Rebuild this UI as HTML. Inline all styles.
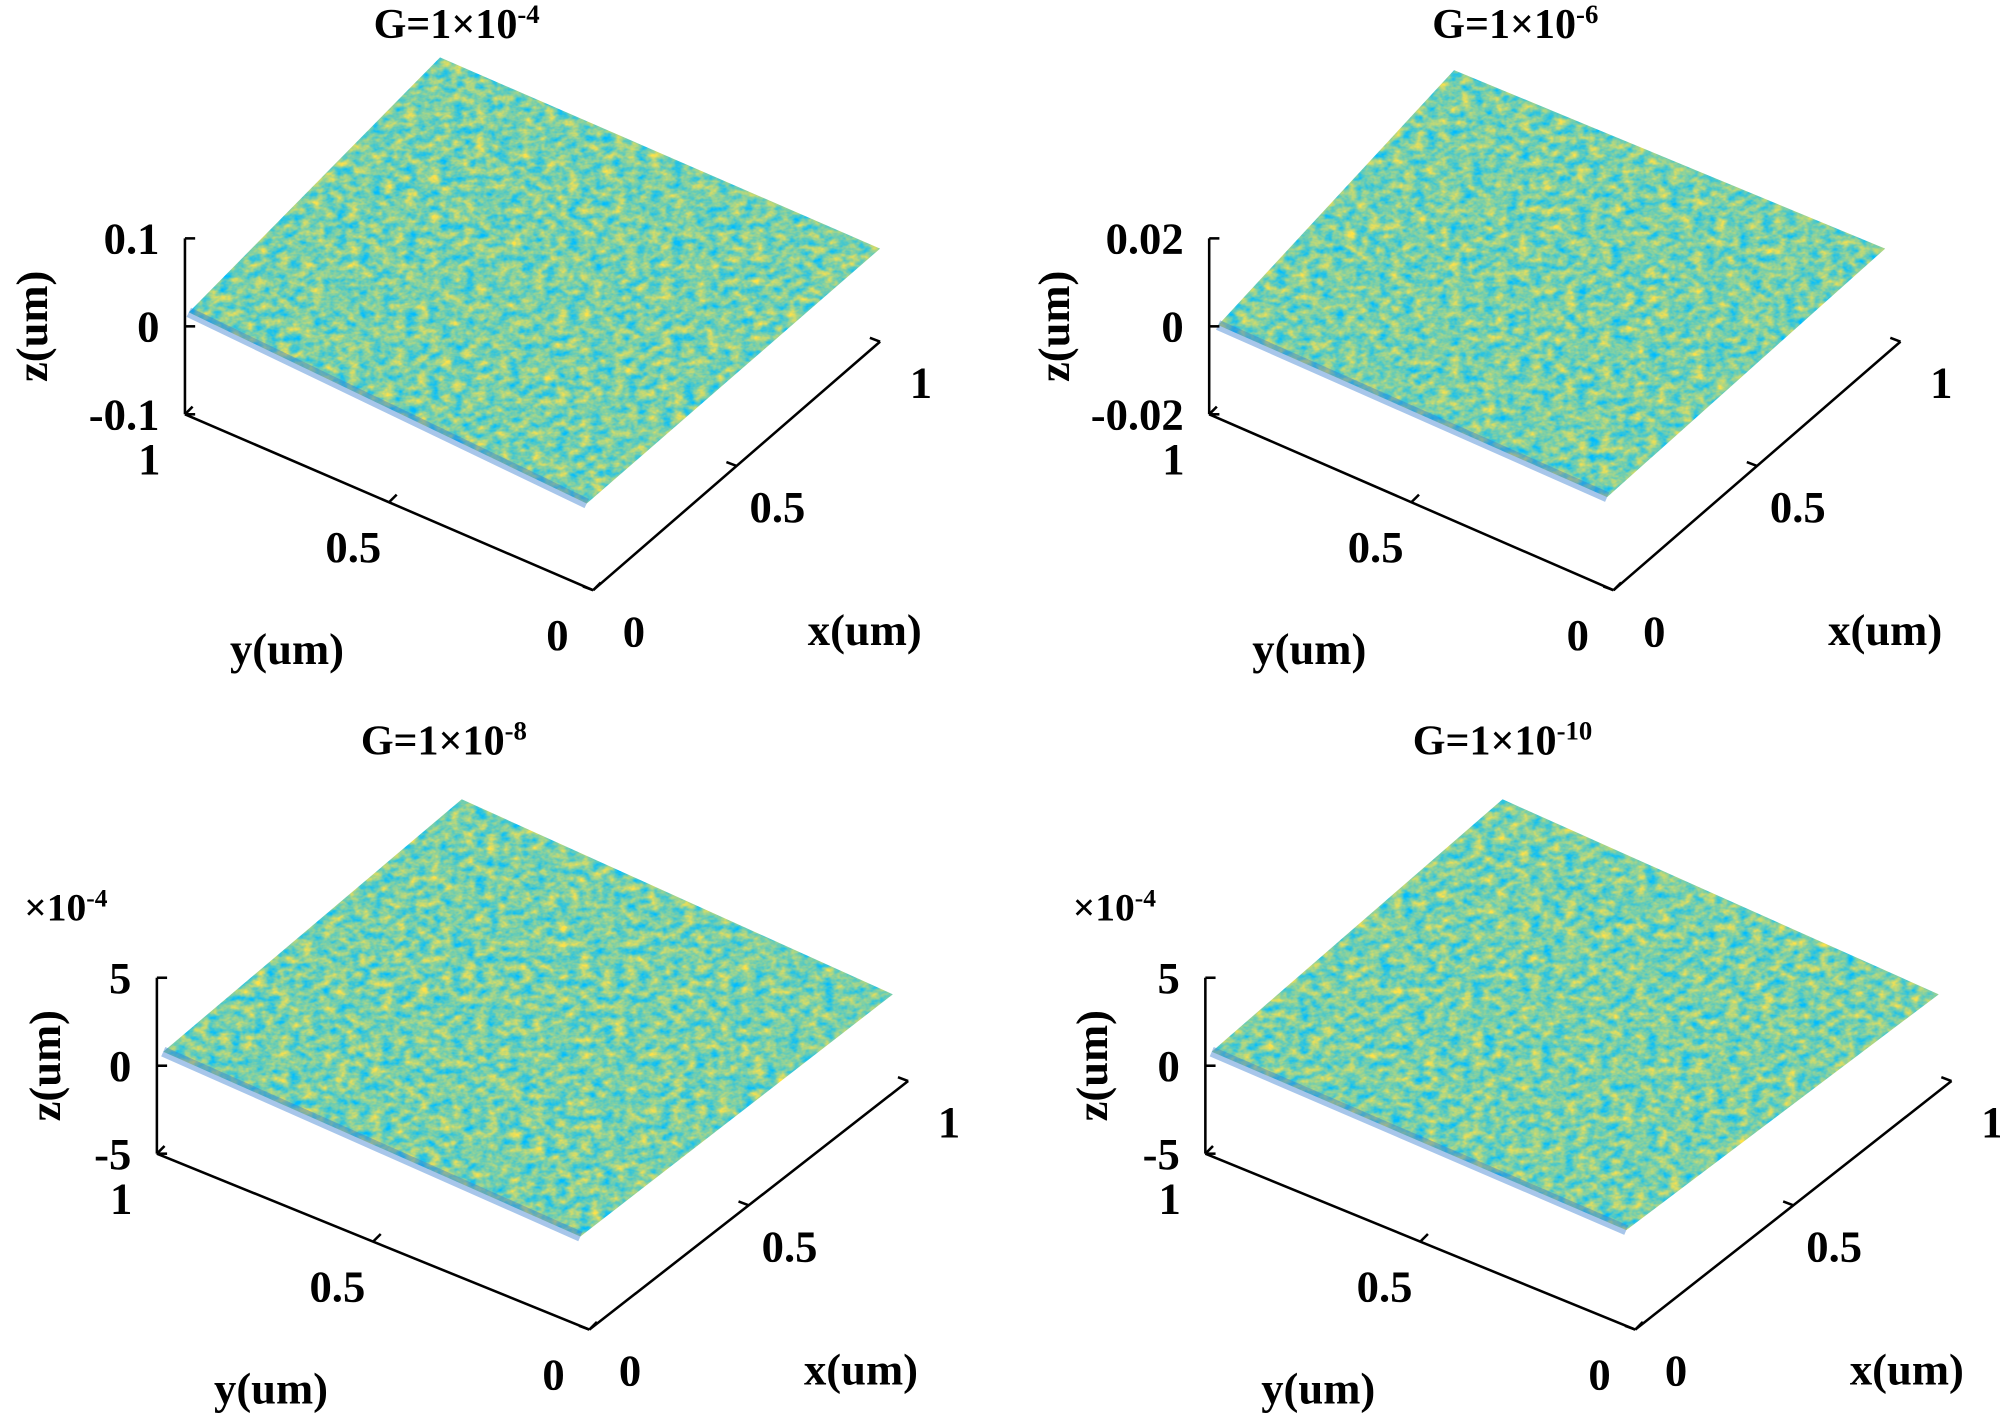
<!DOCTYPE html>
<html><head><meta charset="utf-8"><style>
html,body{margin:0;padding:0;background:#fff;}
svg{display:block;}
text{font-family:"Liberation Serif",serif;fill:#000;font-weight:bold;}
</style></head><body>
<svg id="fig" width="2000" height="1415" viewBox="0 0 1568 1110" preserveAspectRatio="none" xmlns="http://www.w3.org/2000/svg">
<defs>
<filter id="rough" x="0" y="0" width="100%" height="100%" color-interpolation-filters="sRGB">
<feTurbulence type="fractalNoise" baseFrequency="0.11 0.16" numOctaves="3" seed="4" result="n"/>
<feColorMatrix in="n" type="matrix" values="1.4 0 0 0 -0.22  0.2 0 0 0 0.71  -1.0 0 0 0 1.16  0 0 0 0 1"/>
</filter>
</defs>
</svg>
<script>
const titles = ["G=1×10", "G=1×10", "G=1×10", "G=1×10"];
const exps = ["-4", "-6", "-8", "-10"];
const zTicks = [["0.1","0","-0.1"],["0.02","0","-0.02"],["5","0","-5"],["5","0","-5"]];
const hTicks = ["0","0.5","1"];
const svg = document.getElementById('fig');
const NS = "http://www.w3.org/2000/svg";
const P = [
 {zx:145,zt:187,zb:325,yc:[465,463],xc:[690,268],surf:[[148,245],[345,45],[690,195],[460,395]],tx:370,ty:30,sci:false,zl:25},
 {zx:948,zt:187,zb:325,yc:[1265,463],xc:[1490,268],surf:[[955,255],[1140,55],[1478,195],[1260,390]],tx:1200,ty:30,sci:false,zl:826},
 {zx:123,zt:767,zb:905,yc:[462,1043],xc:[712,848],surf:[[128,825],[362,627],[700,780],[455,970]],tx:360,ty:592,sci:true,zl:35},
 {zx:945,zt:767,zb:905,yc:[1282,1043],xc:[1530,848],surf:[[950,825],[1178,627],[1520,780],[1275,965]],tx:1190,ty:592,sci:true,zl:856}
];
function el(tag, attrs, parent){const e=document.createElementNS(NS,tag);for(const k in attrs)e.setAttribute(k,attrs[k]);(parent||svg).appendChild(e);return e;}
function txt(s,x,y,size,parent,anchor){const t=el('text',{x:x,y:y,'font-size':size,'text-anchor':anchor||'middle'},parent);t.textContent=s;return t;}
P.forEach((p,i)=>{
 const g=el('g',{});
 
 
 const t=txt(titles[i],p.tx-12,p.ty,33,g);
 
 
 const ts=el('tspan',{'font-size':21,dy:-12},t);ts.textContent=exps[i];
 const pts=p.surf.map(q=>q.join(',')).join(' ');
 const cp=el('clipPath',{id:'cp'+i},svg.querySelector('defs'));
 el('polygon',{points:pts},cp);
 const sg=el('g',{'clip-path':'url(#cp'+i+')'},g);
 
 
 el('rect',{x:p.surf[0][0],y:p.surf[1][1],width:p.surf[2][0]-p.surf[0][0],height:p.surf[3][1]-p.surf[1][1],filter:'url(#rough)'},sg);
 const fr=el('polyline',{points:[p.surf[0],p.surf[3]].map(q=>q.join(',')).join(' '),stroke:'#3b80d0','stroke-width':8,'stroke-opacity':0.45,fill:'none'},g);
 
 
 const corner=[p.zx,p.zb];
 const ax=el('g',{stroke:'#000','stroke-width':2,fill:'none'},g);
 
 
 el('line',{x1:p.zx,y1:p.zt,x2:p.zx,y2:p.zb},ax);
 el('line',{x1:corner[0],y1:corner[1],x2:p.yc[0],y2:p.yc[1]},ax);
 el('line',{x1:p.yc[0],y1:p.yc[1],x2:p.xc[0],y2:p.xc[1]},ax);
 zTicks[i].forEach((s,k)=>{
  const y=p.zt+(p.zb-p.zt)*k/(zTicks[i].length-1);
  el('line',{x1:p.zx,y1:y,x2:p.zx+8,y2:y},ax);
  const l=txt(s,p.zx-20,y+12,35,g,'end');
  
  
 });
 hTicks.forEach((s,k)=>{
  const f=1-k/(hTicks.length-1);
  const x=corner[0]+(p.yc[0]-corner[0])*f, y=corner[1]+(p.yc[1]-corner[1])*f;
  el('line',{x1:x,y1:y,x2:x+6,y2:y-6},ax);
  const l=txt(s,x-28,y+47,35,g);
  
  
 });
 hTicks.forEach((s,k)=>{
  const f=k/(hTicks.length-1);
  const x=p.yc[0]+(p.xc[0]-p.yc[0])*f, y=p.yc[1]+(p.xc[1]-p.yc[1])*f;
  el('line',{x1:x,y1:y,x2:x-8,y2:y-3},ax);
  const l=txt(s,x+32,y+44,35,g);
  
  
 });
 const yl=txt('y(um)',(corner[0]+p.yc[0])/2-80,p.yc[1]+58,35,g);
 
 
 const xl=txt('x(um)',p.yc[0]+213,p.yc[1]+43,35,g);
 
 
 const zl=txt('z(um)',0,0,35,g);
 zl.setAttribute('transform','translate('+(p.zl+12)+','+((p.zt+p.zb)/2)+') rotate(-90)');
 
 
 if(p.sci){
  const sc=txt('×10',p.zx-104,p.zt-45,31,g,'start');
  
  
  const e=el('tspan',{'font-size':20,dy:-11},sc);e.textContent='-4';
 }
});
</script>
</body></html>
